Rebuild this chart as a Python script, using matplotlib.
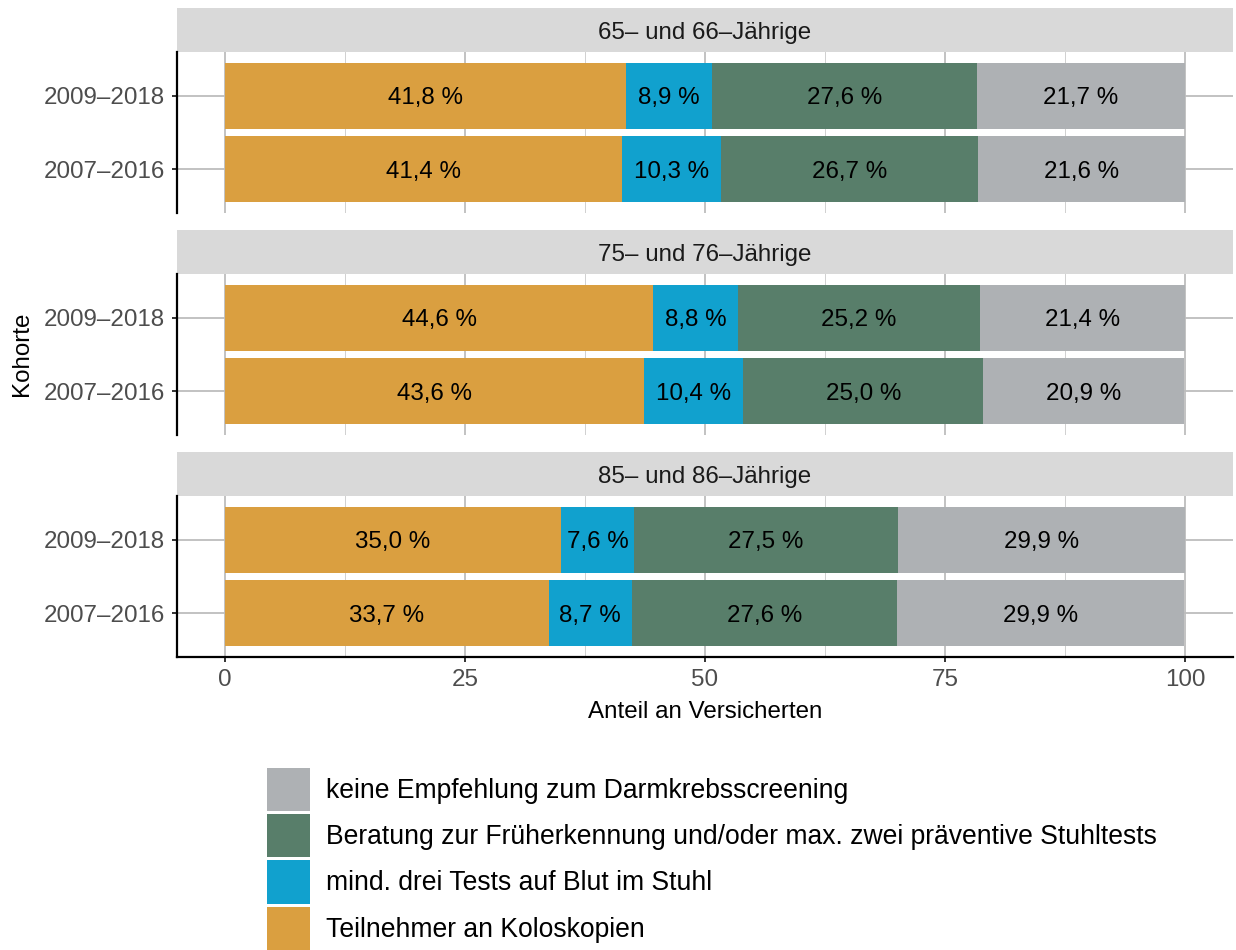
import matplotlib
matplotlib.use("Agg")
import matplotlib.pyplot as plt
from matplotlib.patches import Patch
import numpy as np

plt.rcParams['font.family'] = ['Liberation Sans', 'DejaVu Sans']

# ---- data ----
panels = ["65\u2013 und 66\u2013Jährige", "75\u2013 und 76\u2013Jährige", "85\u2013 und 86\u2013Jährige"]
cohorts = ["2007\u20132016", "2009\u20132018"]  # bottom to top
categories = ["Teilnehmer an Koloskopien",
              "mind. drei Tests auf Blut im Stuhl",
              "Beratung zur Früherkennung und/oder max. zwei präventive Stuhltests",
              "keine Empfehlung zum Darmkrebsscreening"]
colors = ["#DA9F40", "#11A1CE", "#587E6A", "#AEB1B4"]

# values[panel][cohort] (cohorts in order 2007–2016, 2009–2018)
koloskopie = [[41.4, 41.8], [43.6, 44.6], [33.7, 35.0]]
blut_tests = [[10.3, 8.9], [10.4, 8.8], [8.7, 7.6]]
beratung = [[26.7, 27.6], [25.0, 25.2], [27.6, 27.5]]
keine = [[21.6, 21.7], [20.9, 21.4], [29.9, 29.9]]
series = [koloskopie, blut_tests, beratung, keine]

x_ticks = [0, 25, 50, 75, 100]

W, H = 1236, 950
fig = plt.figure(figsize=(W / 100, H / 100), dpi=100)
FS = 17.4


def fax(l, t, r, b):
    return fig.add_axes([l / W, 1 - b / H, (r - l) / W, (b - t) / H])


strip_tops = [8, 230, 452]
L, R = 177, 1233
ypos = np.arange(1, len(cohorts) + 1)

for p, st in enumerate(strip_tops):
    sax = fax(L, st, R, st + 44)
    sax.set_facecolor("#d9d9d9")
    for s in sax.spines.values():
        s.set_visible(False)
    sax.set_xticks([])
    sax.set_yticks([])
    sax.text(0.5, 0.5, panels[p], ha="center", va="center_baseline",
             fontsize=FS, color="#1a1a1a", transform=sax.transAxes)

    ax = fax(L, st + 44, R, st + 44 + 161)
    ax.set_axisbelow(True)
    left = np.zeros(len(cohorts))
    for k, ser in enumerate(series):
        vals = np.array(ser[p])
        ax.barh(ypos, vals, left=left, height=0.9, color=colors[k], linewidth=0)
        for y, v, l0 in zip(ypos, vals, left):
            ax.text(l0 + v / 2, y, f"{v:.1f} %".replace(".", ","), ha="center",
                    va="center_baseline", fontsize=FS, color="black")
        left = left + vals
    ax.set_xlim(-5, 105)
    ax.set_ylim(0.4, 2.6)
    ax.set_xticks(x_ticks)
    ax.set_xticks([12.5, 37.5, 62.5, 87.5], minor=True)
    ax.set_yticks(ypos, cohorts)
    ax.grid(which="major", color="#bdbdbd", linewidth=1.3)
    ax.grid(which="minor", axis="x", color="#d0d0d0", linewidth=0.7)
    ax.tick_params(axis="x", which="minor", length=0)
    ax.tick_params(axis="y", length=3.8, width=1.4, color="#333333",
                   labelsize=FS, labelcolor="#4d4d4d", pad=5)
    for s in ["top", "right"]:
        ax.spines[s].set_visible(False)
    ax.spines["left"].set_linewidth(1.6)
    ax.spines["left"].set_color("black")
    if p < 2:
        ax.spines["bottom"].set_visible(False)
        ax.tick_params(axis="x", which="major", length=0, labelbottom=False)
    else:
        ax.spines["bottom"].set_linewidth(1.6)
        ax.spines["bottom"].set_color("black")
        ax.tick_params(axis="x", which="major", length=3.8, width=1.4, color="#333333",
                       labelsize=FS, labelcolor="#4d4d4d", pad=5)

fig.text((L + R) / 2 / W, 1 - 712 / H, "Anteil an Versicherten", ha="center", va="center",
         fontsize=FS, color="black")
fig.text(22 / W, 1 - 354 / H, "Kohorte", ha="center", va="center", rotation=90,
         fontsize=FS, color="black")

handles = [Patch(facecolor=c, edgecolor="none") for c in colors][::-1]
labels = categories[::-1]
fs = 19.1
fpx = fs * 100 / 72
fig.legend(handles, labels, loc="upper left", bbox_to_anchor=(267 / W, 1 - 768 / H),
           frameon=False, fontsize=fs, borderpad=0, borderaxespad=0,
           handlelength=43 / fpx, handleheight=2.13, labelspacing=3 / fpx,
           handletextpad=16 / fpx)

fig.savefig("out.png", dpi=100)
